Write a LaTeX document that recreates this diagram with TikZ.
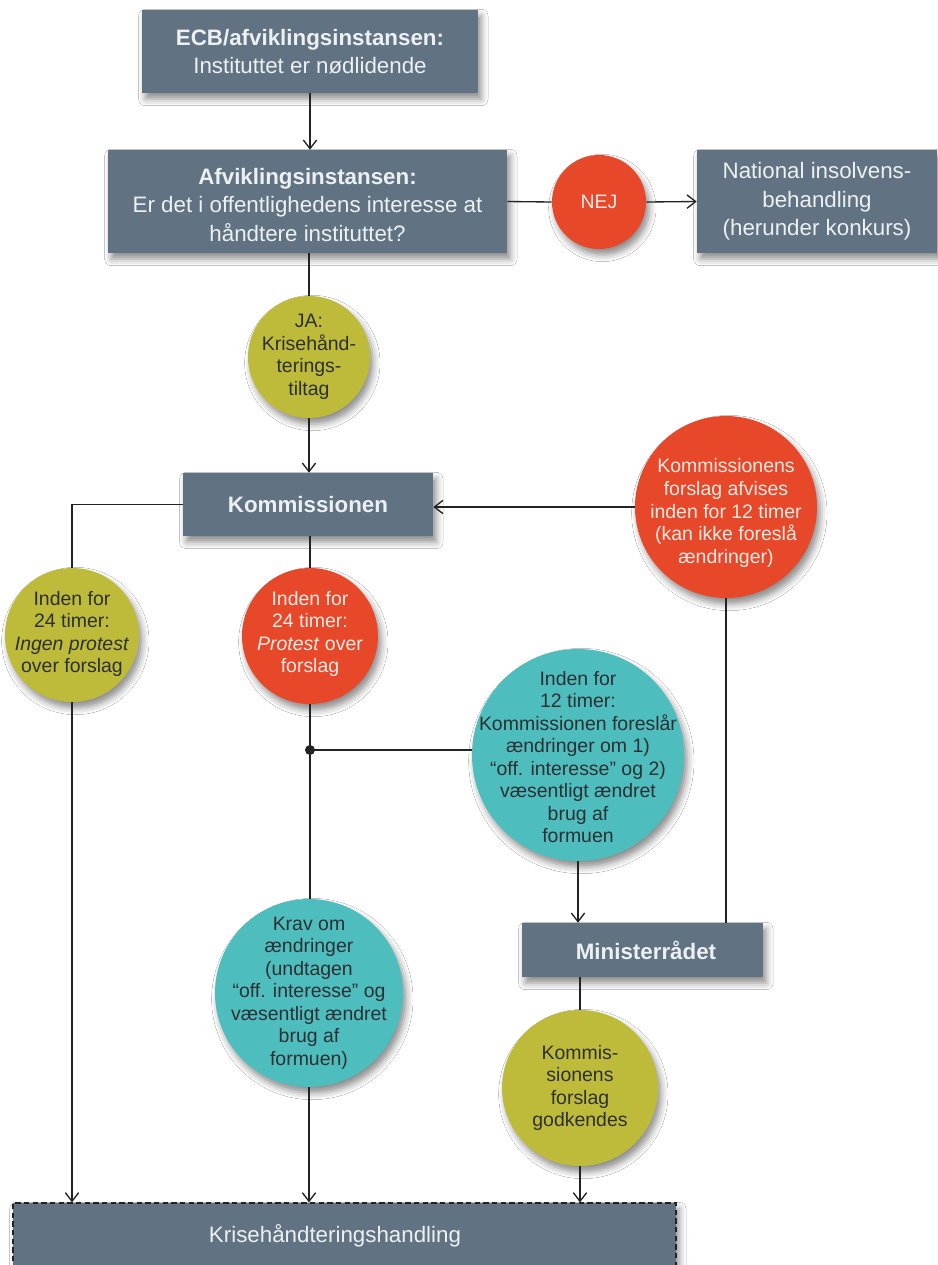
\documentclass[tikz,border=0pt]{standalone}
\usepackage{fontspec}
\setmainfont{Liberation Sans}
\usetikzlibrary{arrows.meta,shadows.blur}

\definecolor{slate}{RGB}{97,115,130}
\definecolor{boxtext}{RGB}{236,240,242}
\definecolor{alarm}{RGB}{232,72,42}
\definecolor{alarmtext}{RGB}{252,234,228}
\definecolor{olivefill}{RGB}{191,187,58}
\definecolor{tealfill}{RGB}{78,189,190}
\definecolor{darktext}{RGB}{45,48,50}
\definecolor{wirecol}{RGB}{35,35,35}

\tikzset{
  softshadow/.style={blur shadow={shadow xshift=2.5pt, shadow yshift=-4.5pt,
      shadow blur radius=5pt, shadow opacity=45}},
  boxfont/.style={font=\fontsize{16.75pt}{21.5pt}\selectfont},
  greybox/.style={rectangle, fill=slate, text=boxtext, align=center,
      inner sep=0pt, softshadow, boxfont},
  disc/.style={circle, inner sep=0pt, minimum size=#1, softshadow},
  red disc/.style={disc=#1, fill=alarm},
  olive disc/.style={disc=#1, fill=olivefill},
  teal disc/.style={disc=#1, fill=tealfill},
  words/.style={align=center, inner sep=0pt,
      font=\fontsize{14.6pt}{16.9pt}\selectfont},
  light words/.style={words, text=alarmtext},
  dark words/.style={words, text=darktext},
  wire/.style={draw=wirecol, line width=1pt},
  arrowwire/.style={wire, -{Straight Barb[length=6.5pt,width=10pt]}},
}

\begin{document}
\begin{tikzpicture}[x=0.75pt, y=-0.75pt]
  \fill[white] (0,0) rectangle (938,1265);
  \useasboundingbox (0,0) rectangle (938,1265);

  % --- top decision chain ---
  \node[greybox, minimum width=252pt, minimum height=62.25pt] (ecb) at (310,51.5)
    {\textbf{ECB/afviklingsinstansen:}\\Instituttet er nødlidende};
  \node[greybox, minimum width=299.25pt, minimum height=77.25pt] (afv) at (307.5,201.5) {};
  \node[text=boxtext, align=center, inner sep=0pt, boxfont] (afvtext) at (307.5,205)
    {\textbf{Afviklingsinstansen:}\\Er det i offentlighedens interesse at\\håndtere instituttet?};
  \node[greybox, minimum width=180pt, minimum height=77.25pt] (nat) at (817,201.5)
    {National insolvens-\\behandling\\(herunder konkurs)};

  \node[red disc=70.5pt] (nej) at (599,202) {};
  \node[light words] (nejtext) at (nej) {NEJ};

  \node[olive disc=91.5pt] (ja) at (309,357) {};
  \node[dark words] (jatext) at (ja) {JA:\\Krisehånd-\\terings-\\tiltag};

  % --- Commission stage ---
  \node[greybox, minimum width=187.5pt, minimum height=47.25pt] (komm) at (308,504.5)
    {\textbf{Kommissionen}};

  \node[olive disc=100.5pt] (noprot) at (72,635) {};
  \node[dark words] (noprottext) at (72,634)
    {Inden for\\24 timer:\\\textit{Ingen protest}\\over forslag};

  \node[red disc=102pt] (prot) at (310,636) {};
  \node[light words] (prottext) at (310,634)
    {Inden for\\24 timer:\\\textit{Protest} over\\forslag};

  \node[red disc=136.5pt] (afvis) at (726,507) {};
  \node[light words] (afvistext) at (726,513)
    {Kommissionens\\forslag afvises\\inden for 12 timer\\(kan ikke foreslå\\ændringer)};

  \node[teal disc=159pt] (forsl) at (578,755) {};
  \node[dark words] (forsltext) at (578,757)
    {Inden for\\12 timer:\\Kommissionen foreslår\\ændringer om 1)\\“off. interesse” og 2)\\væsentligt ændret\\brug af\\formuen};

  % --- Council stage ---
  \node[greybox, minimum width=180.75pt, minimum height=40.5pt] (min) at (642.5,950) {};
  \node[text=boxtext, inner sep=0pt, boxfont] (mintext) at (646,950) {\textbf{Ministerrådet}};

  \node[teal disc=141pt] (krav) at (309,993) {};
  \node[dark words] (kravtext) at (krav)
    {Krav om\\ændringer\\(undtagen\\“off. interesse” og\\væsentligt ændret\\brug af\\formuen)};

  \node[olive disc=117pt] (godk) at (580,1088) {};
  \node[dark words] (godktext) at (godk)
    {Kommis-\\sionens\\forslag\\godkendes};

  % --- final action ---
  \node[greybox, draw=wirecol, line width=0.9pt, dash pattern=on 4pt off 2.5pt,
        minimum width=497.25pt, minimum height=57.75pt] (act) at (344.5,1241.5) {};
  \node[text=boxtext, inner sep=0pt, boxfont] (acttext) at (335,1236) {Krisehåndteringshandling};

  % --- connectors ---
  \draw[arrowwire] (ecb.south) -- (ecb.south |- afv.north);
  \draw[wire] (afv.east) -- (nej.west);
  \draw[arrowwire] (nej.east) -- (nat.west);
  \draw[wire] (afv.south -| ja.north) -- (ja.north);
  \draw[arrowwire] (ja.south) -- (ja.south |- komm.north);
  \draw[wire] (komm.west) -| (noprot.north);
  \draw[arrowwire] (noprot.south) -- (noprot.south |- act.north);
  \draw[wire] (komm.south -| prot.north) -- (prot.north);
  \node[circle, fill=wirecol, inner sep=0pt, minimum size=7.5pt] (junc) at (310,750) {};
  \draw[wire] (prot.south) -- (junc.center) -- (junc.center |- krav.north);
  \draw[wire] (junc.center) -- (junc.center -| forsl.west);
  \draw[arrowwire] (afvis.west) -- (afvis.west -| komm.east);
  \draw[wire] (afvis.south) -- (afvis.south |- min.north);
  \draw[arrowwire] (forsl.south) -- (forsl.south |- min.north);
  \draw[wire] (min.south -| godk.north) -- (godk.north);
  \draw[arrowwire] (godk.south) -- (godk.south |- act.north);
  \draw[arrowwire] (krav.south) -- (krav.south |- act.north);
\end{tikzpicture}
\end{document}
